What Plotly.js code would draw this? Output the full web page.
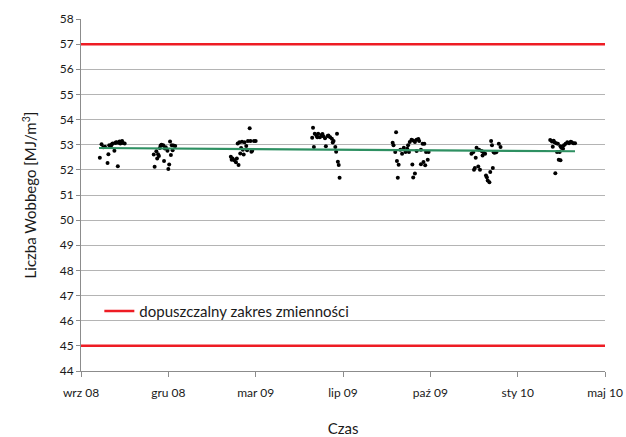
<!DOCTYPE html>
<html>
<head>
<meta charset="utf-8">
<script src="https://cdn.plot.ly/plotly-3.0.1.min.js"></script>
<style>html,body{margin:0;padding:0;background:#fff;}#chart{width:626px;height:437px;}</style>
</head>
<body>
<div id="chart"></div>
<script>
// --- data ---
const tickDates = ['2008-09-01','2008-12-12','2009-03-24','2009-07-04','2009-10-14','2010-01-24','2010-05-06'];
const tickLabels = ['wrz 08','gru 08','mar 09','lip 09','paź 09','sty 10','maj 10'];

const d1 = ['2008-09-23','2008-09-25','2008-09-27','2008-09-29','2008-10-02','2008-10-03','2008-10-04','2008-10-06','2008-10-07','2008-10-08','2008-10-10','2008-10-11','2008-10-12','2008-10-13','2008-10-14','2008-10-15','2008-10-16','2008-10-17','2008-10-19','2008-10-20','2008-10-22','2008-10-18'];
const v1 = [52.48,53.02,52.90,52.92,52.27,52.62,52.98,52.95,53.02,53.05,52.76,53.07,53.10,53.09,52.14,53.08,53.13,53.05,53.15,53.07,53.05,53.12];

const d2 = ['2008-11-25','2008-11-26','2008-11-28','2008-11-29','2008-11-30','2008-12-01','2008-12-02','2008-12-03','2008-12-04','2008-12-06','2008-12-07','2008-12-08','2008-12-09','2008-12-11','2008-12-12','2008-12-13','2008-12-14','2008-12-15','2008-12-16','2008-12-17','2008-12-18','2008-12-20'];
const v2 = [52.61,52.12,52.74,52.45,52.62,52.55,52.87,52.97,53.00,52.98,52.35,52.85,52.90,52.76,52.03,52.21,53.13,52.59,52.98,52.78,52.97,52.95];

const d3 = ['2009-02-23','2009-02-24','2009-02-25','2009-02-27','2009-03-01','2009-03-02','2009-03-03','2009-03-04','2009-03-05','2009-03-06','2009-03-07','2009-03-08','2009-03-09','2009-03-10','2009-03-11','2009-03-13','2009-03-14','2009-03-15','2009-03-17','2009-03-18','2009-03-19','2009-03-20','2009-03-22','2009-03-24'];
const v3 = [52.52,52.40,52.45,52.38,52.30,52.45,53.05,52.19,53.10,52.65,52.87,53.12,52.80,52.61,53.10,52.95,52.78,53.15,53.65,53.15,52.72,52.76,53.15,53.15];

const d4 = ['2009-05-29','2009-05-30','2009-05-31','2009-06-01','2009-06-03','2009-06-04','2009-06-05','2009-06-07','2009-06-09','2009-06-10','2009-06-11','2009-06-13','2009-06-14','2009-06-16','2009-06-17','2009-06-19','2009-06-21','2009-06-22','2009-06-23','2009-06-25','2009-06-26','2009-06-27','2009-06-28','2009-06-29','2009-06-30'];
const v4 = [53.28,53.67,52.91,53.44,53.37,53.30,53.44,53.30,53.39,53.43,53.34,53.26,52.94,53.35,53.37,53.30,53.24,53.09,53.15,52.91,52.72,53.44,52.32,52.19,51.69];

const d5 = ['2009-08-31','2009-09-01','2009-09-03','2009-09-04','2009-09-05','2009-09-06','2009-09-07','2009-09-09','2009-09-11','2009-09-13','2009-09-15','2009-09-17','2009-09-18','2009-09-19','2009-09-20','2009-09-22','2009-09-23','2009-09-24','2009-09-24','2009-09-26','2009-09-26','2009-09-28','2009-09-28','2009-09-30','2009-10-01','2009-10-03','2009-10-03','2009-10-05','2009-10-06','2009-10-07','2009-10-08','2009-10-09','2009-10-11','2009-10-12'];
const v5 = [53.08,52.98,52.71,53.50,52.35,51.69,52.20,52.80,52.64,52.88,52.71,52.84,52.98,52.71,53.11,53.20,52.21,51.70,53.17,51.86,53.11,53.20,52.75,53.23,53.15,52.80,52.22,53.04,52.31,53.04,52.18,52.71,52.40,52.71];

const d6 = ['2009-12-01','2009-12-03','2009-12-04','2009-12-05','2009-12-06','2009-12-07','2009-12-09','2009-12-10','2009-12-11','2009-12-13','2009-12-14','2009-12-15','2009-12-17','2009-12-18','2009-12-19','2009-12-20','2009-12-22','2009-12-23','2009-12-24','2009-12-25','2009-12-26','2009-12-27','2009-12-28','2009-12-30','2010-01-02','2010-01-04'];
const v6 = [52.64,52.70,52.00,52.07,52.48,52.88,52.13,52.80,52.00,52.75,52.57,52.70,52.64,51.78,51.71,51.58,51.51,51.91,53.15,52.98,52.07,52.70,52.68,52.70,53.04,52.91];

const d7 = ['2010-03-03','2010-03-05','2010-03-06','2010-03-07','2010-03-08','2010-03-09','2010-03-10','2010-03-11','2010-03-12','2010-03-13','2010-03-14','2010-03-15','2010-03-15','2010-03-16','2010-03-18','2010-03-19','2010-03-21','2010-03-23','2010-03-25','2010-03-27','2010-03-28','2010-03-30','2010-04-01'];
const v7 = [53.19,53.13,52.92,53.16,53.10,51.87,53.06,52.71,53.04,52.40,52.71,52.94,52.38,52.88,52.84,52.98,53.04,53.10,53.06,53.12,53.10,53.06,53.06];

const trendDates = ['2008-09-22','2010-04-01'];
const trendVals = [52.87, 52.74];

const limitDates = ['2008-09-01','2010-05-06'];
const upperLimit = 57;
const lowerLimit = 45;
const limitName = 'dopuszczalny zakres zmienności';

// --- build ---
const allDates = [].concat(d1,d2,d3,d4,d5,d6,d7);
const allVals = [].concat(v1,v2,v3,v4,v5,v6,v7);
const FONT = 'Lato, "Open Sans", sans-serif';
const TXT = '#1a1a1a';

const traces = [
  {
    x: [limitDates[0], limitDates[1], null, limitDates[0], limitDates[1]],
    y: [upperLimit, upperLimit, null, lowerLimit, lowerLimit],
    mode: 'lines', name: limitName,
    line: {color: '#ee1c24', width: 2.5},
    showlegend: true, hoverinfo: 'skip', cliponaxis: false
  },
  {
    x: allDates, y: allVals, mode: 'markers', name: 'pomiary',
    marker: {color: '#000', size: 4}, showlegend: false
  },
  {
    x: trendDates, y: trendVals, mode: 'lines', name: 'trend',
    line: {color: '#2e9062', width: 2.2}, showlegend: false
  }
];

const layout = {
  width: 626, height: 437,
  margin: {l: 81, r: 21, t: 19, b: 66},
  paper_bgcolor: '#fff', plot_bgcolor: '#fff',
  font: {family: FONT, size: 12, color: TXT},
  showlegend: true,
  legend: {x: 0.035, y: 0.17, xanchor: 'left', yanchor: 'middle',
           bgcolor: 'rgba(0,0,0,0)', font: {family: FONT, size: 15, color: TXT},
           itemwidth: 30, tracegroupgap: 0},
  xaxis: {
    type: 'date',
    range: [limitDates[0], limitDates[1]],
    tickmode: 'array', tickvals: tickDates, ticktext: tickLabels,
    showgrid: false, zeroline: false,
    showline: true, linecolor: '#8c8c8c', linewidth: 1,
    ticks: 'outside', ticklen: 5, tickcolor: '#8c8c8c',
    ticklabelstandoff: 6,
    tickfont: {family: FONT, size: 12, color: TXT},
    title: {text: 'Czas', font: {family: FONT, size: 15, color: TXT}, standoff: 26},
    automargin: false
  },
  yaxis: {
    range: [44, 58], dtick: 1, tick0: 44,
    showgrid: true, gridcolor: '#b4b4b4', gridwidth: 1,
    zeroline: false,
    showline: true, linecolor: '#8c8c8c', linewidth: 1,
    ticks: 'outside', ticklen: 4, tickcolor: '#8c8c8c',
    tickfont: {family: FONT, size: 12, color: TXT},
    title: {text: 'Liczba Wobbego [MJ/m<sup>3</sup>]', font: {family: FONT, size: 15, color: TXT}, standoff: 19},
    automargin: false
  }
};

Plotly.newPlot('chart', traces, layout, {staticPlot: true, displayModeBar: false});
</script>
</body>
</html>
